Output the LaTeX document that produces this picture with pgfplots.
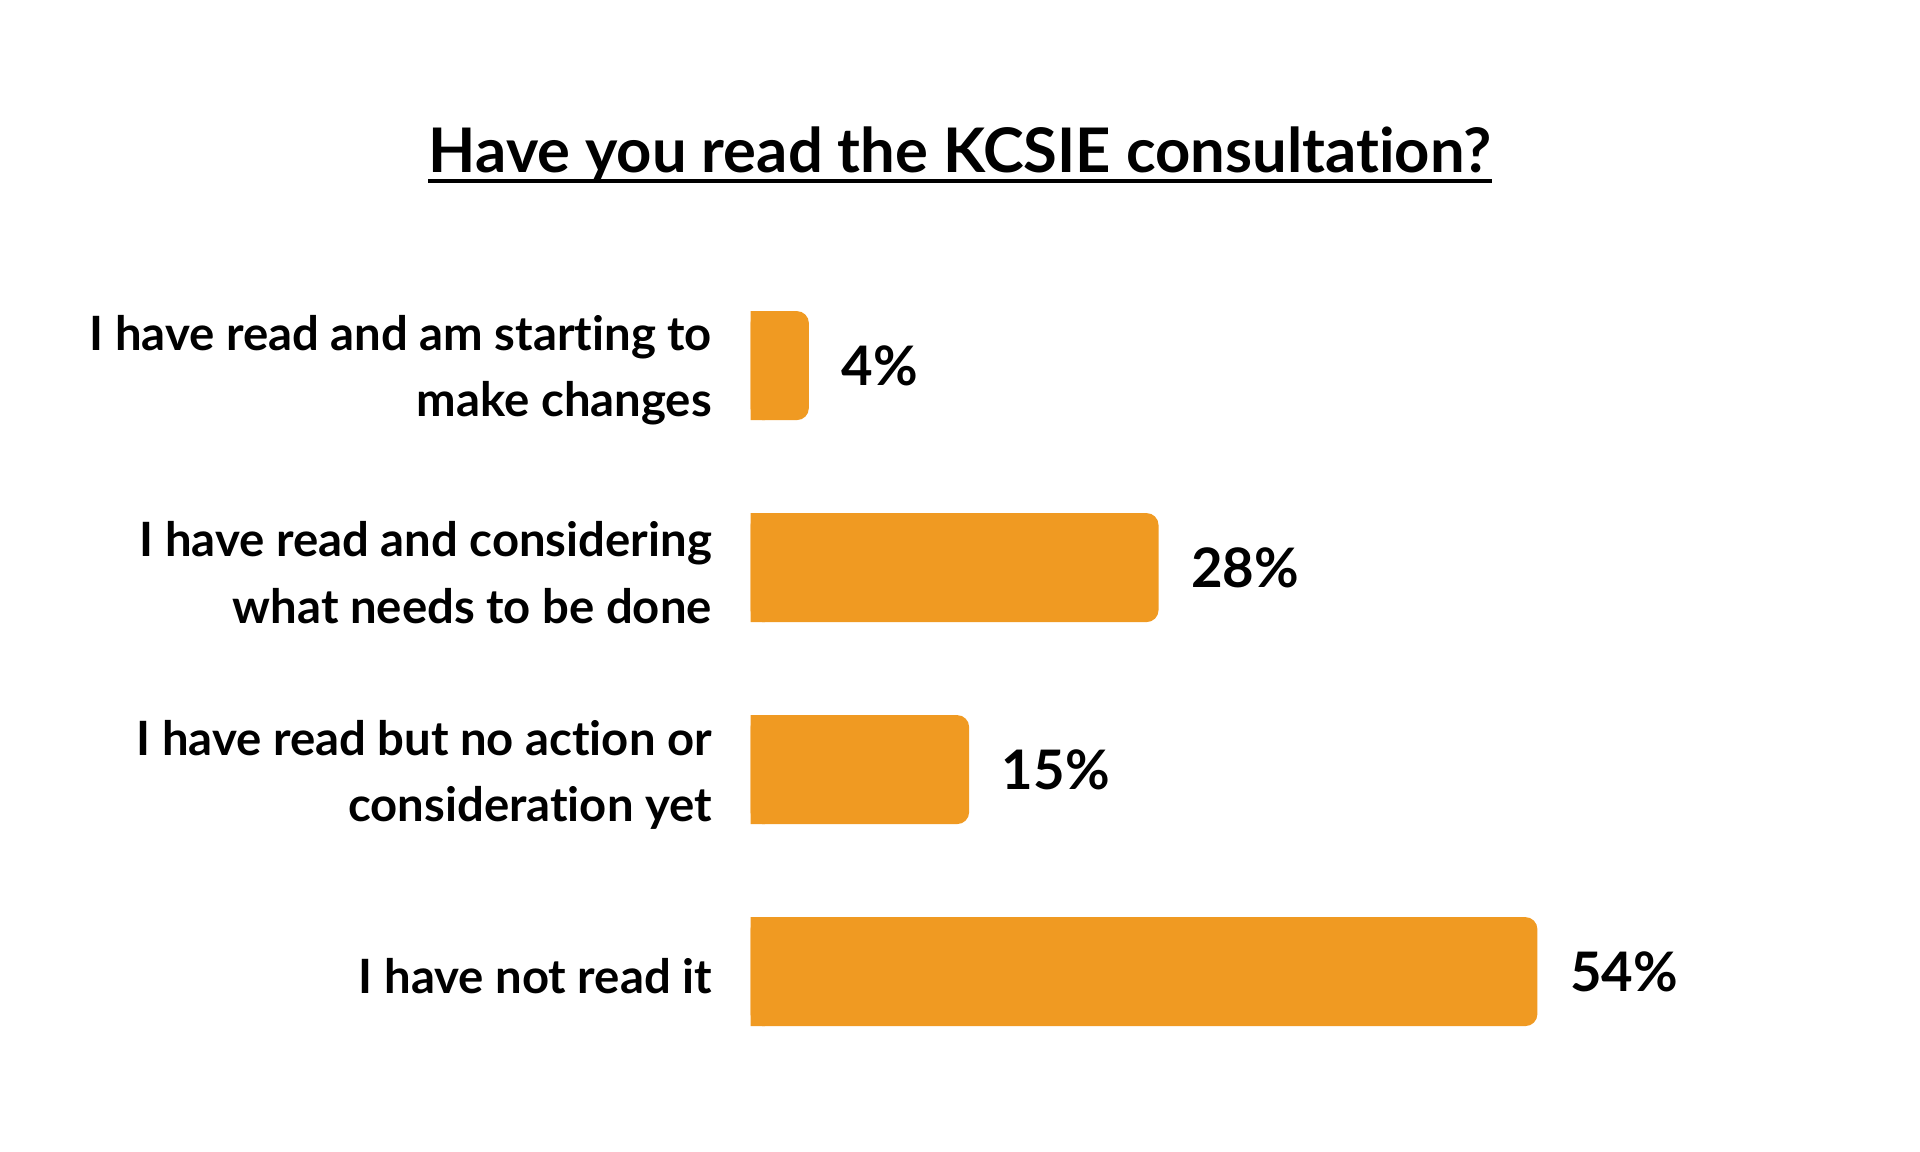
\documentclass[border=0pt]{standalone}
\usepackage{fontspec}
\setmainfont{Lato}[Ligatures=NoCommon]
\usepackage{pgfplots}
\pgfplotsset{compat=1.18}
\definecolor{barorange}{RGB}{240,154,34}
\begin{document}
\begin{tikzpicture}
\path[use as bounding box] (0,0) rectangle (19.2cm,11.52cm);
\node[anchor=base, font=\fontsize{17.5}{21}\selectfont\bfseries, inner sep=0pt] (title) at (9.6cm,9.79cm) {Have you read the KCSIE consultation?};
\draw[line width=0.04cm] ([yshift=-0.08cm]title.base west) -- ([yshift=-0.08cm]title.base east);
\begin{axis}[
  at={(7.506cm,0.794cm)}, anchor=south west,
  scale only axis, width=14.57cm, height=8.08cm,
  xmin=0, xmax=100, ymin=-0.5, ymax=3.5,
  axis line style={draw=none},
  major tick length=0pt,
  xtick=\empty,
  xbar, bar width=1.09cm, bar shift=0pt,
  ytick={0,1,2,3},
  yticklabels={{I have not read it},{I have read but no action or\\consideration yet},{I have read and considering\\what needs to be done},{I have read and am starting to\\make changes}},
  yticklabel style={align=right, font=\fontsize{13.45}{18.8}\selectfont\bfseries, inner sep=0pt, xshift=-0.38cm, yshift=-0.05cm},
  /pgf/number format/assume math mode=true,
  clip=false,
]
\addplot[fill=barorange, draw=none, rounded corners=0.12cm,
  nodes near coords={\pgfmathprintnumber{\pgfplotspointmeta}\%},
  nodes near coords style={anchor=west, inner sep=0pt, xshift=0.32cm, font=\fontsize{15.5}{18}\selectfont\bfseries, text=black},
  point meta=x]
  coordinates {(54,0) (15,1) (28,2) (4,3)};
\addplot[fill=barorange, draw=none] coordinates {(1,0) (1,1) (1,2) (1,3)};
\end{axis}
\end{tikzpicture}
\end{document}
